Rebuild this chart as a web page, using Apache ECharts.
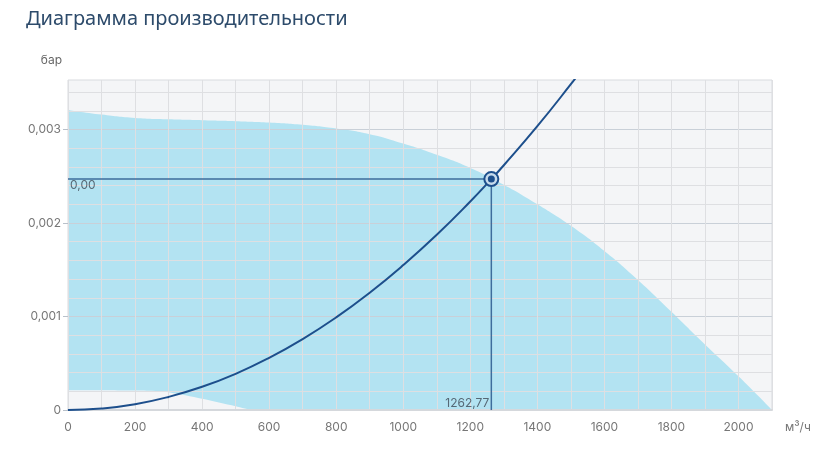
<!DOCTYPE html>
<html>
<head>
<meta charset="utf-8">
<script src="https://cdn.jsdelivr.net/npm/echarts@6/dist/echarts.min.js"></script>
<style>
  html, body { margin: 0; padding: 0; background: #fff; }
  #chart { width: 838px; height: 458px; }
</style>
</head>
<body>
<div id="chart"></div>
<script>
// данные
var fanX = [0, 100, 200, 300, 400, 500, 600, 700, 800, 900, 1000, 1100, 1200, 1300, 1400, 1500, 1600, 1700, 1800, 1900, 2000, 2100];
var fanMax = [0.00321, 0.00316, 0.003124, 0.00311, 0.0031, 0.00309, 0.003075, 0.00305, 0.00301, 0.00295, 0.00285, 0.00273, 0.00259, 0.00241, 0.00220, 0.00197, 0.00170, 0.00139, 0.00105, 0.00070, 0.00036, 0];
var fanMinX = [0, 250, 300, 400, 500, 545];
var fanMin = [0.00021, 0.000205, 0.00019, 0.00012, 0.00004, 0];
var netX = [0, 100, 200, 300, 400, 500, 600, 700, 800, 900, 1000, 1100, 1200, 1262.77, 1300, 1400, 1500, 1550];
var netY = [0, 0.000016, 0.000062, 0.00014, 0.000248, 0.000387, 0.000558, 0.000759, 0.000991, 0.001255, 0.00155, 0.001874, 0.00223, 0.00247, 0.002618, 0.003036, 0.003485, 0.00372];
var opX = 1262.77;
var opY = 0.00247;
var opLabels = ['0,00', '1262,77'];
var xTicks = [0, 200, 400, 600, 800, 1000, 1200, 1400, 1600, 1800, 2000];
var yTicks = [0, 0.001, 0.002, 0.003];

function pairs(xs, ys) {
    var out = [];
    for (var i = 0; i < xs.length; i++) {
        out.push([xs[i], ys[i]]);
    }
    return out;
}

var chartDom = document.getElementById('chart');
var myChart = echarts.init(chartDom);
var option;
option = {
    animation: false,
    textStyle: { fontFamily: 'Inter, "Noto Sans", sans-serif' },
    title: {
        text: 'Диаграмма производительности',
        left: 21,
        top: 4,
        textStyle: {
            fontFamily: '"Noto Sans", sans-serif',
            fontSize: 20,
            fontWeight: 'normal',
            color: '#2d4b6b'
        }
    },
    grid: {
        left: 68,
        right: 66,
        top: 80,
        bottom: 48,
        show: true,
        backgroundColor: '#f4f5f7',
        borderColor: '#d8dbdf',
        borderWidth: 1
    },
    xAxis: {
        type: 'value',
        min: 0,
        max: 2100,
        interval: 200,
        z: 3,
        name: 'м³/ч',
        nameLocation: 'end',
        nameGap: 13,
        nameTextStyle: {
            color: '#777',
            fontSize: 12,
            align: 'left',
            verticalAlign: 'top',
            padding: [11, 0, 0, 0]
        },
        axisLine: { show: true, lineStyle: { color: '#d5d8dc', width: 2 } },
        axisTick: { show: false },
        axisLabel: {
            color: '#777',
            fontSize: 12,
            margin: 11,
            customValues: xTicks,
            formatter: function (v) {
                return String(v);
            }
        },
        splitLine: { show: true, lineStyle: { color: '#dedfe2', width: 1 } },
        minorTick: { show: false, splitNumber: 2 },
        minorSplitLine: { show: true, lineStyle: { color: '#dedfe2', width: 1 } }
    },
    yAxis: {
        type: 'value',
        min: 0,
        max: 0.00353,
        interval: 0.001,
        z: 3,
        name: 'бар',
        nameLocation: 'end',
        nameGap: 14,
        nameTextStyle: {
            color: '#666',
            fontSize: 12,
            align: 'right',
            padding: [0, 6, 0, 0]
        },
        axisLine: { show: false },
        axisTick: {
            show: true,
            length: 5,
            customValues: yTicks,
            lineStyle: { color: '#b9c1ca' }
        },
        axisLabel: {
            color: '#777',
            fontSize: 12,
            margin: 7,
            customValues: yTicks,
            formatter: function (v) {
                if (v === 0) return '0';
                return v.toFixed(3).replace('.', ',');
            }
        },
        splitLine: { show: true, lineStyle: { color: '#c9d0d8', width: 1.2 } },
        minorTick: { show: false, splitNumber: 5 },
        minorSplitLine: { show: true, lineStyle: { color: '#dedfe2', width: 1 } }
    },
    series: [
        {
            // рабочая зона вентилятора
            type: 'line',
            data: pairs(fanX, fanMax),
            smooth: true,
            symbol: 'none',
            z: 1,
            lineStyle: { width: 0 },
            areaStyle: { color: '#b3e3f2', opacity: 1 }
        },
        {
            type: 'line',
            data: pairs(fanMinX, fanMin),
            smooth: 0.3,
            symbol: 'none',
            z: 1,
            lineStyle: { width: 0 },
            areaStyle: { color: '#f4f5f7', opacity: 1 }
        },
        {
            // характеристика сети
            type: 'line',
            data: pairs(netX, netY),
            smooth: true,
            symbol: 'none',
            z: 4,
            lineStyle: { color: '#1d4f8c', width: 2 }
        },
        {
            // линии рабочей точки
            type: 'line',
            data: [[0, opY], [opX, opY], [opX, 0]],
            symbol: 'none',
            z: 4,
            lineStyle: { color: '#3e6d9c', width: 1.5 }
        },
        {
            type: 'scatter',
            data: [
                {
                    value: [0, opY],
                    label: { show: true, formatter: opLabels[0], position: 'bottom', align: 'left', distance: 0, offset: [2, 0] }
                },
                {
                    value: [opX, 0],
                    label: { show: true, formatter: opLabels[1], position: 'top', align: 'right', distance: 0, offset: [-2, 0] }
                }
            ],
            symbolSize: 1,
            z: 5,
            itemStyle: { color: 'rgba(0,0,0,0)' },
            label: { color: '#3f4955', fontSize: 12 }
        },
        {
            type: 'scatter',
            data: [[opX, opY]],
            symbolSize: 14,
            z: 6,
            itemStyle: { color: '#c7dbec', borderColor: '#1d4f8c', borderWidth: 2, opacity: 1 }
        },
        {
            type: 'scatter',
            data: [[opX, opY]],
            symbolSize: 7,
            z: 7,
            itemStyle: { color: '#1d4f8c', opacity: 1 }
        }
    ]
};
option && myChart.setOption(option);
</script>
</body>
</html>
